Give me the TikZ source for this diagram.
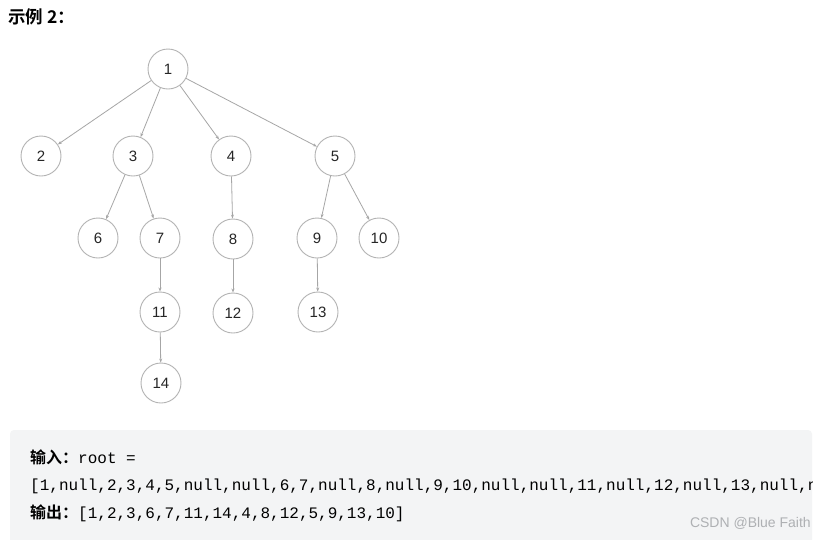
\documentclass[tikz,border=0pt]{standalone}
\usepackage{fontspec}
\setmainfont{Liberation Sans}
\newfontfamily\cjkb{Noto Sans CJK SC Bold}
\newfontfamily\codefont{Liberation Mono}
\usetikzlibrary{arrows.meta}
\definecolor{edgegray}{HTML}{A6A6A6}
\definecolor{circgray}{HTML}{B3B3B3}
\definecolor{boxbg}{HTML}{F3F4F5}
\definecolor{wm}{HTML}{AEB0B3}
\begin{document}
\begin{tikzpicture}[x=1pt,y=-1pt,
  tnode/.style={circle,draw=circgray,line width=0.9pt,minimum size=40pt,inner sep=0pt,font=\fontsize{15}{17}\selectfont,text=black!85},
  tedge/.style={draw=edgegray,line width=0.8pt,-{Stealth[length=4pt,width=3pt]}}]
\useasboundingbox (0,0) rectangle (825,539);
\fill[white] (0,0) rectangle (825,539);
% title
\node[anchor=west,inner sep=0pt,font=\cjkb\fontsize{17.5}{19}\selectfont] (title) at (8,17) {示例 2：};
% tree
\node[tnode] (n1) at (168,69) {1};
\node[tnode] (n2) at (41,156) {2};
\node[tnode] (n3) at (133,156) {3};
\node[tnode] (n4) at (231,156) {4};
\node[tnode] (n5) at (335,156) {5};
\node[tnode] (n6) at (98,238) {6};
\node[tnode] (n7) at (160,238) {7};
\node[tnode] (n8) at (233,239) {8};
\node[tnode] (n9) at (317,238) {9};
\node[tnode] (n10) at (379,238) {10};
\node[tnode] (n11) at (160,312) {11};
\node[tnode] (n12) at (233,313) {12};
\node[tnode] (n13) at (318,312) {13};
\node[tnode] (n14) at (161,383) {14};
\draw[tedge] (n1) -- (n2);
\draw[tedge] (n1) -- (n3);
\draw[tedge] (n1) -- (n4);
\draw[tedge] (n1) -- (n5);
\draw[tedge] (n3) -- (n6);
\draw[tedge] (n3) -- (n7);
\draw[tedge] (n4) -- (n8);
\draw[tedge] (n5) -- (n9);
\draw[tedge] (n5) -- (n10);
\draw[tedge] (n7) -- (n11);
\draw[tedge] (n8) -- (n12);
\draw[tedge] (n9) -- (n13);
\draw[tedge] (n11) -- (n14);
% code box
\fill[boxbg,rounded corners=4pt] (10,430) rectangle (812,545);
\begin{scope}
\clip (10,430) rectangle (812,539);
\node[anchor=west,inner sep=0pt,font=\fontsize{16}{18}\selectfont] (in1) at (30,457) {{\cjkb 输入：}{\codefont root =}};
\node[anchor=west,inner sep=0pt,font=\codefont\fontsize{16}{18}\selectfont] (in2) at (30,486) {[1,null,2,3,4,5,null,null,6,7,null,8,null,9,10,null,null,11,null,12,null,13,null,null,14]};
\node[anchor=west,inner sep=0pt,font=\fontsize{16}{18}\selectfont] (out) at (30,513) {{\cjkb 输出：}{\codefont [1,2,3,6,7,11,14,4,8,12,5,9,13,10]}};
\end{scope}
\node[anchor=east,inner sep=0pt,text=wm,font=\fontsize{14}{16}\selectfont] (wmk) at (811,523) {CSDN @Blue Faith};
\end{tikzpicture}
\end{document}
